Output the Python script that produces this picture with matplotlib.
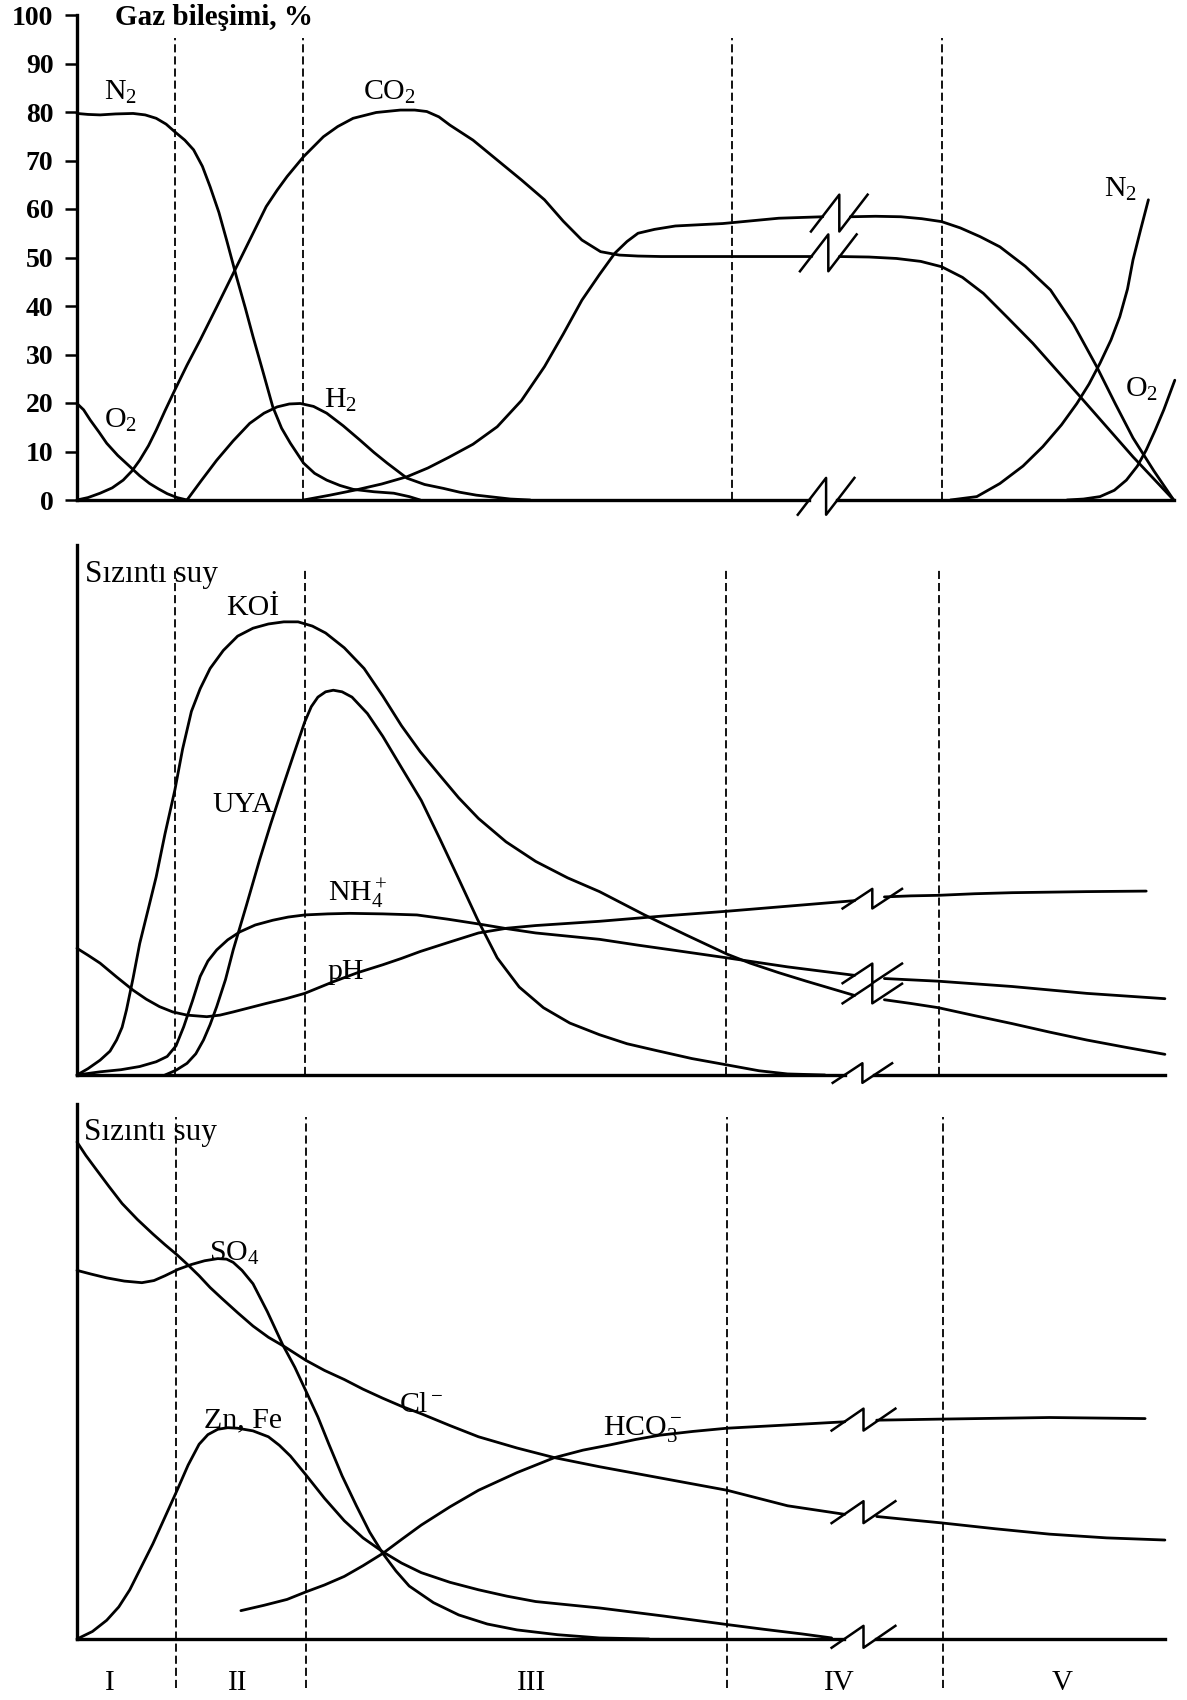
import numpy as np
import matplotlib.pyplot as plt

plt.rcParams['font.family'] = ['Liberation Serif', 'DejaVu Serif']
plt.rcParams['mathtext.fontset'] = 'custom'
plt.rcParams['mathtext.rm'] = 'Liberation Serif'
plt.rcParams['mathtext.it'] = 'Liberation Serif:italic'
plt.rcParams['mathtext.bf'] = 'Liberation Serif:bold'

# ---- Gaz bileşimi (%) ----
n2a_x = [0, 1.0, 2.1, 3.5, 5.1, 6.2, 7.2, 8.1, 8.9, 9.8, 10.6, 11.4, 12.1, 12.9, 13.6, 14.5, 15.3, 16.0,
         16.9, 17.8, 18.6, 19.4, 20.6, 21.6, 22.7, 23.9, 25.1, 27.0, 28.8, 30.2, 31.2]
n2a_y = [79.7, 79.5, 79.4, 79.6, 79.7, 79.4, 78.7, 77.5, 75.9, 74.2, 72.2, 68.8, 64.6, 59.3, 53.6, 46.0, 39.6, 33.7,
         26.5, 19.2, 14.8, 11.7, 7.6, 5.5, 4.1, 3.0, 2.2, 1.7, 1.4, 0.7, 0]
o2a_x = [0, 0.6, 1.2, 2.0, 2.7, 3.7, 4.8, 5.7, 6.6, 7.4, 8.2, 9.1, 10.0]
o2a_y = [19.9, 18.6, 16.5, 14.0, 11.7, 9.2, 6.9, 5.0, 3.4, 2.3, 1.3, 0.5, 0]
co2_x = [0, 1.0, 2.1, 3.2, 4.2, 5.0, 5.7, 6.5, 7.2, 8.0, 8.9, 10.0, 11.2, 12.7, 14.2, 15.7, 17.2, 18.2, 19.1,
         20.6, 22.4, 23.7, 25.1, 27.2, 29.4, 30.7, 31.8, 32.9, 33.9, 36.0, 38.2, 40.4, 42.5, 44.2, 45.9,
         47.6, 49.3, 51.0, 53.1, 59.5, 66.8,
         69.3, 72.0, 74.5, 76.7, 78.6, 80.5, 82.4, 84.6, 86.9, 91.2, 96.0, 99.7]
co2_y = [0, 0.5, 1.4, 2.5, 4.1, 6.0, 8.2, 11.2, 14.4, 18.4, 22.7, 27.8, 33.0, 39.8, 46.7, 53.6, 60.5, 63.9, 66.7,
         70.8, 74.9, 77.0, 78.7, 79.9, 80.4, 80.4, 80.1, 79.0, 77.3, 74.2, 70.1, 66.0, 61.9, 57.5, 53.6,
         51.2, 50.5, 50.3, 50.2, 50.2, 50.2,
         50.2, 50.1, 49.8, 49.2, 48.1, 45.9, 42.6, 37.6, 32.3, 21.3, 8.9, 0]
ch4_x = [20.6, 23.0, 25.4, 27.7, 30.0, 31.9, 33.8, 36.0, 38.2, 40.4, 42.5, 44.2, 45.9, 47.5, 48.9, 50.0,
         51.0, 52.5, 54.4, 58.7, 63.8, 67.8,
         70.3, 72.6, 74.9, 76.8, 78.6, 80.3, 82.1, 83.9, 86.2, 88.5, 90.6, 92.7, 94.4, 96.0, 97.9, 99.7]
ch4_y = [0, 1.0, 2.1, 3.3, 4.8, 6.6, 8.8, 11.5, 15.1, 20.5, 27.5, 34.2, 41.2, 46.5, 50.9, 53.3,
         55.0, 55.8, 56.5, 57.0, 58.1, 58.4,
         58.4, 58.5, 58.4, 58.0, 57.4, 56.1, 54.3, 52.2, 48.2, 43.3, 36.2, 27.5, 19.8, 12.8, 6.0, 0]
h2_x = [10.0, 11.3, 12.7, 14.2, 15.7, 17.0, 18.2, 19.3, 20.3, 21.5, 22.7, 24.2, 25.7, 27.0, 28.2, 30.0,
        31.6, 33.3, 34.8, 36.3, 39.4, 41.2]
h2_y = [0, 4.0, 8.2, 12.2, 15.8, 17.9, 19.2, 19.8, 19.9, 19.3, 17.9, 15.3, 12.4, 9.8, 7.6, 4.5,
        3.2, 2.4, 1.6, 1.0, 0.2, 0]
n2b_x = [79.4, 81.8, 83.9, 86.0, 87.8, 89.5, 90.9, 92.0, 93.0, 94.0, 94.8, 95.5, 96.0, 96.7, 97.4]
n2b_y = [0, 0.7, 3.4, 7.0, 11.0, 15.5, 19.9, 23.9, 28.2, 33.0, 37.8, 43.5, 49.5, 55.8, 61.9]
o2b_x = [90.0, 91.5, 93.0, 94.3, 95.4, 96.4, 97.2, 98.0, 98.8, 99.8]
o2b_y = [0, 0.2, 0.7, 2.0, 4.1, 7.0, 10.3, 14.3, 18.6, 24.7]
gas_ticks = [0, 10, 20, 30, 40, 50, 60, 70, 80, 90, 100]

# ---- Sızıntı suyu: KOİ, UYA, NH4+, pH ----
koi_x = [0, 1.0, 2.1, 3.0, 3.6, 4.1, 4.5, 5.1, 5.7, 6.5, 7.2, 8.0, 8.9, 9.6, 10.4, 11.2, 12.1, 13.3, 14.6,
         16.0, 17.4, 18.8, 20.1, 21.4, 22.6, 24.3, 26.1, 27.8, 29.5, 31.2, 33.0, 34.7, 36.5, 39.0, 41.7,
         44.6, 47.5, 51.6, 55.4, 59.1, 61.2, 63.8, 66.3, 70.7,
         73.4, 75.8, 78.3, 81.6, 85.0, 88.4, 91.8, 95.4, 98.9]
koi_y = [0, 1.2, 2.8, 4.5, 6.6, 9.0, 12.3, 18.3, 24.8, 31.5, 37.4, 45.5, 53.8, 61.5, 68.6, 72.9, 76.7, 80.1, 82.8,
         84.3, 85.1, 85.5, 85.5, 84.7, 83.4, 80.6, 76.7, 71.5, 65.9, 61.0, 56.5, 52.3, 48.4, 44.0, 40.3,
         37.2, 34.6, 30.2, 26.4, 22.8, 21.1, 19.3, 17.7, 15.0,
         14.2, 13.5, 12.7, 11.2, 9.7, 8.1, 6.6, 5.2, 3.9]
uya_x = [8.0, 9.0, 10.0, 10.8, 11.5, 12.1, 12.7, 13.5, 14.2, 15.4, 16.6, 17.6, 18.7, 19.7, 20.7, 21.3,
         21.9, 22.6, 23.3, 24.1, 25.0, 26.4, 27.8, 29.5, 31.3, 33.0, 34.7, 36.4, 38.2, 40.2, 42.4,
         44.8, 47.5, 50.0, 52.7, 55.9, 59.1, 62.0, 64.6, 68.0]
uya_y = [0, 0.9, 2.2, 4.0, 6.6, 9.5, 12.9, 18.0, 23.6, 32.0, 40.6, 47.3, 54.3, 60.5, 66.6, 69.5,
         71.3, 72.3, 72.6, 72.3, 71.3, 68.2, 63.9, 58.0, 51.8, 44.5, 37.0, 29.4, 22.1, 16.6, 12.7,
         9.8, 7.6, 5.9, 4.6, 3.1, 1.9, 0.8, 0.2, 0]
nh4_x = [0, 2.1, 4.0, 5.7, 7.2, 8.2, 9.0, 9.7, 10.5, 11.2, 11.9, 12.7, 13.7, 14.8, 16.2, 17.8, 19.2,
         20.7, 22.8, 24.8, 27.8, 30.9, 33.7, 36.5, 39.1, 41.7, 44.6, 47.5, 51.0, 54.4, 59.1, 64.6, 70.7,
         73.4, 78.3, 85.0, 91.8, 98.9]
nh4_y = [0, 0.6, 1.0, 1.6, 2.5, 3.5, 5.5, 9.1, 14.0, 18.6, 21.5, 23.6, 25.5, 27.0, 28.3, 29.2, 29.8,
         30.2, 30.4, 30.5, 30.4, 30.2, 29.4, 28.5, 27.6, 26.8, 26.2, 25.6, 24.5, 23.5, 22.1, 20.4, 18.8,
         18.2, 17.7, 16.7, 15.4, 14.4]
ph_x = [0, 1.0, 2.1, 3.6, 5.1, 6.3, 7.5, 8.7, 10.0, 11.8, 13.0, 14.2, 15.7, 17.2, 19.0, 20.7, 22.0,
        23.3, 25.5, 27.8, 29.5, 31.2, 33.9, 36.5, 39.1, 41.7, 44.6, 47.5, 53.3, 59.1, 64.9, 70.7,
        73.4, 75.8, 78.3, 81.6, 85.0, 91.8, 97.2]
ph_y = [23.9, 22.6, 21.1, 18.5, 16.0, 14.3, 12.9, 11.9, 11.3, 11.0, 11.3, 11.9, 12.7, 13.5, 14.4, 15.4, 16.5,
        17.6, 19.3, 20.8, 22.0, 23.3, 25.1, 26.8, 27.7, 28.2, 28.6, 29.0, 30.0, 30.9, 31.9, 32.9,
        33.6, 33.8, 33.9, 34.2, 34.4, 34.6, 34.7]

# ---- Sızıntı suyu: Cl-, SO4, Zn/Fe, HCO3- ----
cl_x = [0, 0.8, 1.7, 2.9, 4.1, 5.5, 6.9, 8.0, 9.1, 10.1, 11.1, 12.1, 13.2, 14.6, 16.0, 17.4, 18.9, 20.8,
        22.5, 24.3, 26.0, 27.8, 29.5, 31.3, 33.9, 36.5, 40.0, 43.4, 47.5, 53.3, 59.1, 64.6, 69.8,
        72.7, 75.6, 78.6, 83.5, 88.4, 93.6, 98.9]
cl_y = [92.9, 90.4, 87.9, 84.6, 81.4, 78.4, 75.7, 73.7, 71.8, 69.9, 67.9, 65.7, 63.6, 61.0, 58.5, 56.4, 54.6, 52.1,
        50.2, 48.5, 46.7, 45.0, 43.5, 42.1, 39.9, 37.8, 35.7, 33.9, 32.2, 30.0, 27.8, 24.9, 23.3,
        22.9, 22.3, 21.7, 20.6, 19.6, 18.9, 18.5]
so4_x = [0, 1.3, 2.7, 4.3, 5.9, 7.0, 8.0, 9.2, 10.4, 11.6, 12.8, 13.6, 14.2, 15.0, 16.0, 17.3, 18.7, 19.8,
         20.8, 21.9, 22.9, 24.1, 25.4, 26.6, 27.8, 29.0, 30.2, 32.4, 34.7, 37.3, 40.0, 43.7, 47.5, 52.0]
so4_y = [68.9, 68.2, 67.5, 66.9, 66.6, 67.0, 67.9, 69.1, 70.0, 70.7, 71.1, 71.0, 70.4, 68.9, 66.4, 61.2, 55.0, 50.8,
         46.4, 41.5, 36.4, 30.5, 24.9, 20.0, 16.0, 12.7, 9.9, 6.8, 4.5, 2.8, 1.7, 0.8, 0.2, 0]
znfe_x = [0, 1.4, 2.7, 3.8, 4.8, 5.8, 6.9, 8.0, 9.1, 10.1, 11.1, 11.9, 12.8, 13.7, 14.6, 16.0, 17.4, 18.4,
          19.4, 20.8, 22.5, 24.3, 26.0, 27.8, 29.5, 31.3, 33.9, 36.5, 39.1, 41.7, 44.6, 47.5, 53.3, 59.1,
          62.5, 65.9, 68.6]
znfe_y = [0, 1.4, 3.5, 6.0, 9.2, 13.3, 17.8, 22.8, 27.8, 32.5, 36.4, 38.2, 39.2, 39.5, 39.4, 38.9, 37.8, 36.2,
          34.2, 30.7, 26.3, 22.1, 18.9, 16.3, 14.2, 12.4, 10.6, 9.2, 8.0, 7.0, 6.4, 5.8, 4.3, 2.7,
          1.8, 0.95, 0.2]
hco3_x = [14.9, 17.0, 19.1, 20.8, 22.5, 24.3, 26.0, 27.8, 29.5, 31.3, 33.9, 36.5, 40.0, 43.4, 46.0, 48.5,
          50.8, 53.0, 56.0, 59.1, 64.5, 69.8,
          72.7, 78.5, 88.4, 97.1]
hco3_y = [5.3, 6.3, 7.4, 8.8, 10.1, 11.7, 13.7, 16.0, 18.6, 21.3, 24.7, 27.8, 31.1, 33.9, 35.3, 36.3,
          37.3, 38.1, 38.8, 39.4, 40.0, 40.6,
          40.9, 41.1, 41.4, 41.2]

phases = ['I', 'II', 'III', 'IV', 'V']
phase_x = [3.0, 14.6, 41.3, 69.3, 89.6]

W, H = 1187, 1700
fig = plt.figure(figsize=(W / 100, H / 100), dpi=100)

curve = dict(color='black', lw=2.0, solid_capstyle='round', solid_joinstyle='round', clip_on=False)
dash = dict(color='black', lw=1.3, linestyles=(0, (4.5, 2.2)), clip_on=False)
txt = dict(fontsize=21.5, ha='left', va='baseline')


def make_axes(top_px, bottom_px):
    ax = fig.add_axes([77 / W, 1 - bottom_px / H, 1100 / W, (bottom_px - top_px) / H])
    ax.set_xlim(0, 100)
    ax.set_ylim(0, 100)
    for s in ['top', 'right', 'bottom']:
        ax.spines[s].set_visible(False)
    ax.spines['left'].set_linewidth(2.4)
    ax.set_xticks([])
    ax.patch.set_visible(False)
    return ax


def break_mark(ax, xb, yc, w, h):
    y0 = yc - 0.4 * h
    ax.plot([xb - w / 2, xb, xb, xb + w / 2], [y0, y0 + h, y0, y0 + h],
            color='black', lw=1.8, clip_on=False)


def broken(ax, x, y, xb, w, h):
    x = np.asarray(x)
    y = np.asarray(y)
    left = x < xb
    ax.plot(x[left], y[left], **curve)
    ax.plot(x[~left], y[~left], **curve)
    break_mark(ax, xb, y[left][-1], w, h)


def baseline(ax, xb, w, h, xend):
    ax.plot([0, xb - 0.3 * w], [0, 0], color='black', lw=2.4, clip_on=False)
    ax.plot([xb + 0.2 * w, xend], [0, 0], color='black', lw=2.4, clip_on=False)
    break_mark(ax, xb, 0, w, h)


# ---------- panel 1 ----------
ax1 = make_axes(15, 500)
ax1.set_yticks(gas_ticks)
ax1.tick_params(axis='y', direction='out', length=9, width=1.8, pad=8, labelsize=20)
for lb in ax1.get_yticklabels():
    lb.set_fontweight('bold')
ax1.vlines([8.9, 20.5, 59.5, 78.6], 0, 95.3, **dash)
for xs, ys in [(n2a_x, n2a_y), (o2a_x, o2a_y), (h2_x, h2_y), (n2b_x, n2b_y), (o2b_x, o2b_y)]:
    ax1.plot(xs, ys, **curve)
broken(ax1, ch4_x, ch4_y, 69.3, 5.15, 7.6)
broken(ax1, co2_x, co2_y, 68.3, 5.15, 7.6)
baseline(ax1, 68.1, 5.15, 7.6, 99.7)
ax1.text(3.5, 99.4, 'Gaz bileşimi, %', fontsize=21, fontweight='bold', ha='left', va='center')
ax1.text(2.5, 82.5, r'N$_2$', **txt)
ax1.text(2.5, 14.8, r'O$_2$', **txt)
ax1.text(26.0, 82.5, r'CO$_2$', **txt)
ax1.text(22.5, 19.0, r'H$_2$', **txt)
ax1.text(93.4, 62.5, r'N$_2$', **txt)
ax1.text(95.3, 21.3, r'O$_2$', **txt)

# ---------- panel 2 ----------
ax2 = make_axes(545, 1075)
ax2.set_yticks([])
ax2.vlines([8.9, 20.7, 59.0, 78.4], 0, 95.5, **dash)
ax2.plot(uya_x, uya_y, **curve)
broken(ax2, koi_x, koi_y, 72.3, 5.4, 3.7)
broken(ax2, nh4_x, nh4_y, 72.3, 5.4, 3.7)
broken(ax2, ph_x, ph_y, 72.3, 5.4, 3.7)
baseline(ax2, 71.4, 5.4, 3.7, 98.9)
ax2.text(0.7, 93.0, 'Sızıntı suy', fontsize=22.5, ha='left', va='baseline')
ax2.text(13.6, 86.8, 'KOİ', **txt)
ax2.text(12.3, 49.7, 'UYA', **txt)
ax2.text(22.8, 32.7, r'NH$_4^+$', **txt)
ax2.text(22.8, 18.2, 'pH', **txt)

# ---------- panel 3 ----------
ax3 = make_axes(1104, 1639)
ax3.set_yticks([])
ax3.vlines([9.0, 20.8, 59.1, 78.7], -9.2, 97.6, **dash)
ax3.plot(so4_x, so4_y, **curve)
ax3.plot(znfe_x, znfe_y, **curve)
broken(ax3, cl_x, cl_y, 71.5, 5.8, 4.1)
broken(ax3, hco3_x, hco3_y, 71.5, 5.8, 4.1)
baseline(ax3, 71.5, 5.8, 4.1, 98.9)
ax3.text(0.6, 93.3, 'Sızıntı suy', fontsize=22.5, ha='left', va='baseline')
ax3.text(12.0, 70.7, r'SO$_4$', **txt)
ax3.text(11.5, 39.6, 'Zn, Fe', **txt)
ax3.text(29.3, 42.4, r'Cl$^-$', **txt)
ax3.text(47.8, 38.1, r'HCO$_3^-$', **txt)
for px, lab in zip(phase_x, phases):
    ax3.text(px, -8.2, lab, fontsize=21, ha='center', va='center', clip_on=False)

fig.savefig('out.png', dpi=100, facecolor='white')
